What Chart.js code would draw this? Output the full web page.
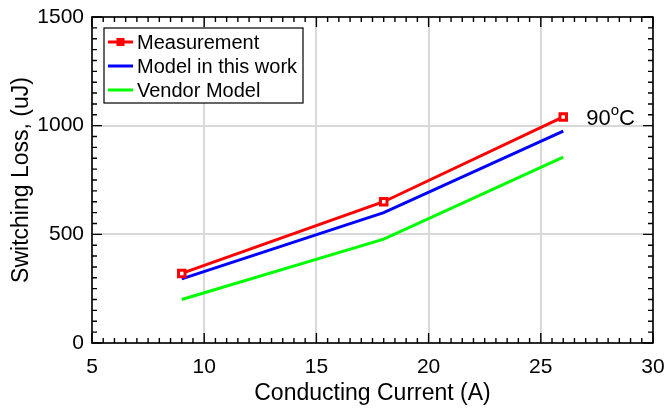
<!DOCTYPE html>
<html>
<head>
<meta charset="utf-8">
<script src="https://cdn.jsdelivr.net/npm/chart.js@4.4.1/dist/chart.umd.min.js"></script>
<style>
  html, body { margin: 0; padding: 0; background: #fff; }
  canvas { display: block; }
</style>
</head>
<body>
<canvas id="chart" width="664" height="411"></canvas>
<script>
// Conducting current (A) at which switching loss was evaluated
const currents = [9, 18, 26];
// Switching loss (uJ)
const measured = [320, 650, 1040];
const modelThisWork = [295, 600, 975];
const vendorModel = [200, 478, 855];

const xTicks = [5, 10, 15, 20, 25, 30];
const yTicks = [0, 500, 1000, 1500];
const seriesNames = ['Measurement', 'Model in this work', 'Vendor Model'];
const tempLabel = { base: '90', sup: 'o', tail: 'C', atIndex: 2 };

const FONT = '"Liberation Sans", Arial, Helvetica, sans-serif';

const toPoints = ys => currents.map((x, i) => ({ x, y: ys[i] }));

// Box frame with inward major/minor ticks on all four sides
const framePlugin = {
  id: 'frame',
  afterDraw(chart) {
    const { ctx, chartArea: a, scales: { x, y } } = chart;
    ctx.save();
    ctx.strokeStyle = '#000';
    ctx.lineWidth = 1.6;
    ctx.strokeRect(a.left, a.top, a.right - a.left, a.bottom - a.top);
    ctx.lineWidth = 1.4;
    ctx.beginPath();
    for (let v = x.min; v <= x.max + 1e-9; v += 0.5) {
      const px = x.getPixelForValue(v);
      const len = Math.abs(v % 5) < 1e-9 ? 10 : 5;
      ctx.moveTo(px, a.bottom); ctx.lineTo(px, a.bottom - len);
      ctx.moveTo(px, a.top); ctx.lineTo(px, a.top + len);
    }
    for (let v = y.min; v <= y.max + 1e-9; v += 50) {
      const py = y.getPixelForValue(v);
      const len = Math.abs(v % 500) < 1e-9 ? 10 : 5;
      ctx.moveTo(a.left, py); ctx.lineTo(a.left + len, py);
      ctx.moveTo(a.right, py); ctx.lineTo(a.right - len, py);
    }
    ctx.stroke();
    ctx.restore();
  }
};

// Boxed legend in the upper-left corner of the plot
const boxLegendPlugin = {
  id: 'boxLegend',
  afterDraw(chart) {
    const { ctx, chartArea: a } = chart;
    const left = a.left + 12, top = a.top + 11;
    const w = 199, h = 75, rowH = 24;
    ctx.save();
    ctx.fillStyle = '#fff';
    ctx.fillRect(left, top, w, h);
    ctx.strokeStyle = '#000';
    ctx.lineWidth = 1.2;
    ctx.strokeRect(left, top, w, h);
    ctx.font = '20px ' + FONT;
    ctx.textBaseline = 'middle';
    chart.data.datasets.forEach((ds, i) => {
      const cy = top + 14 + i * rowH;
      ctx.strokeStyle = ds.borderColor;
      ctx.lineWidth = 3;
      ctx.beginPath();
      ctx.moveTo(left + 4, cy);
      ctx.lineTo(left + 29, cy);
      ctx.stroke();
      if (ds.pointRadius > 0) {
        ctx.fillStyle = ds.borderColor;
        ctx.fillRect(left + 12.5, cy - 4, 8, 8);
      }
      ctx.fillStyle = '#000';
      ctx.fillText(ds.label, left + 33, cy + 1);
    });
    ctx.restore();
  }
};

// Temperature note beside the last measured point
const tempPlugin = {
  id: 'tempNote',
  afterDraw(chart) {
    const { ctx, scales: { x, y } } = chart;
    const i = tempLabel.atIndex;
    const px = x.getPixelForValue(currents[i]) + 23;
    const py = y.getPixelForValue(measured[i]) + 2;
    ctx.save();
    ctx.fillStyle = '#000';
    ctx.textBaseline = 'middle';
    ctx.font = '22px ' + FONT;
    ctx.fillText(tempLabel.base, px, py);
    let cx = px + ctx.measureText(tempLabel.base).width;
    ctx.font = '15px ' + FONT;
    ctx.fillText(tempLabel.sup, cx, py - 8);
    cx += ctx.measureText(tempLabel.sup).width;
    ctx.font = '22px ' + FONT;
    ctx.fillText(tempLabel.tail, cx, py);
    ctx.restore();
  }
};

new Chart(document.getElementById('chart'), {
  type: 'line',
  data: {
    datasets: [
      {
        label: seriesNames[0],
        data: toPoints(measured),
        borderColor: '#ff0000',
        backgroundColor: '#ffffff',
        borderWidth: 3,
        pointStyle: 'rect',
        pointRadius: 4.6,
        pointBorderWidth: 3,
        pointBackgroundColor: '#ffffff',
        pointBorderColor: '#ff0000',
        tension: 0
      },
      {
        label: seriesNames[1],
        data: toPoints(modelThisWork),
        borderColor: '#0000ff',
        borderWidth: 3,
        pointRadius: 0,
        tension: 0
      },
      {
        label: seriesNames[2],
        data: toPoints(vendorModel),
        borderColor: '#00ff00',
        borderWidth: 3,
        pointRadius: 0,
        tension: 0
      }
    ]
  },
  options: {
    responsive: false,
    animation: false,
    layout: { padding: { top: 17, right: 11, left: 0, bottom: 0 } },
    plugins: {
      legend: { display: false },
      tooltip: { enabled: false }
    },
    scales: {
      x: {
        type: 'linear',
        min: xTicks[0],
        max: xTicks[xTicks.length - 1],
        afterBuildTicks: s => { s.ticks = xTicks.map(v => ({ value: v })); },
        afterFit: s => { s.height = 68; s.paddingLeft = 0; s.paddingRight = 0; },
        ticks: { color: '#000', font: { family: FONT, size: 21 }, padding: 12, maxRotation: 0, callback: v => String(v) },
        grid: { color: '#d9d9d9', lineWidth: 2, drawTicks: false },
        border: { display: false },
        title: {
          display: true,
          text: 'Conducting Current (A)',
          color: '#000',
          font: { family: FONT, size: 23 },
          padding: { top: 0, bottom: 4 }
        }
      },
      y: {
        type: 'linear',
        min: yTicks[0],
        max: yTicks[yTicks.length - 1],
        afterBuildTicks: s => { s.ticks = yTicks.map(v => ({ value: v })); },
        afterFit: s => { s.width = 92; s.paddingTop = 0; s.paddingBottom = 0; },
        ticks: { color: '#000', font: { family: FONT, size: 21 }, padding: 8, callback: v => String(v) },
        grid: { color: '#d9d9d9', lineWidth: 2, drawTicks: false },
        border: { display: false },
        title: {
          display: true,
          text: 'Switching Loss, (uJ)',
          color: '#000',
          font: { family: FONT, size: 23 },
          padding: { top: 8, bottom: 0 }
        }
      }
    }
  },
  plugins: [framePlugin, boxLegendPlugin, tempPlugin]
});
</script>
</body>
</html>
